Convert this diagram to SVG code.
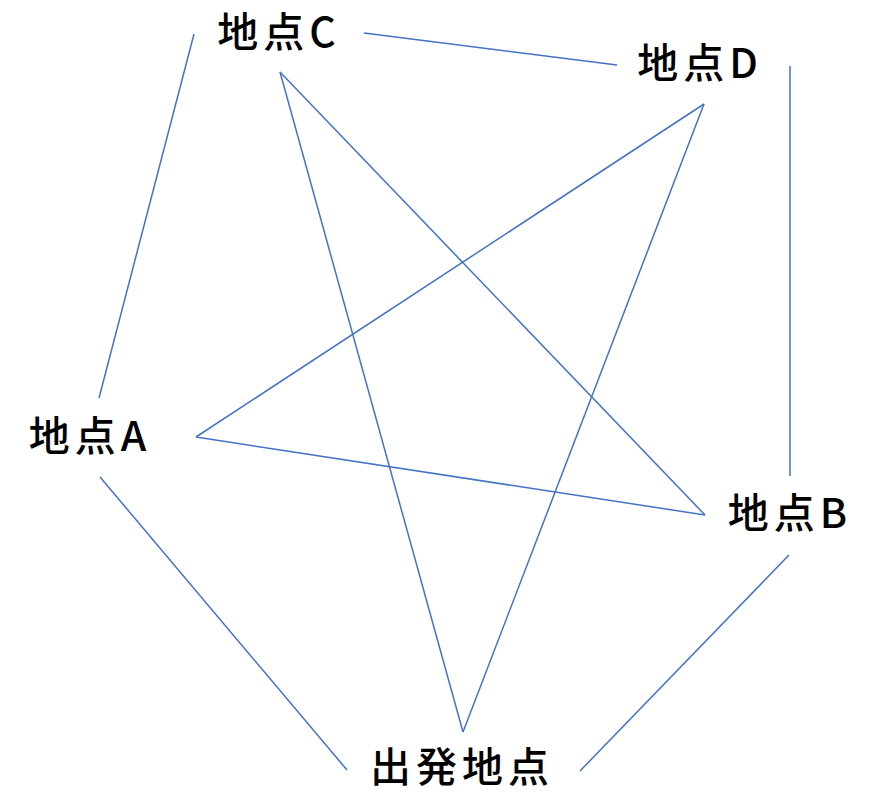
<svg xmlns="http://www.w3.org/2000/svg" width="872" height="793" viewBox="0 0 872 793">
<style>
.edge{stroke:#4472C4;stroke-width:1.5;fill:none}
.lbl{font-family:"Noto Sans CJK JP","Noto Sans",sans-serif;font-size:41px;font-weight:500;fill:#000;text-anchor:middle;letter-spacing:5px}
</style>
<rect width="872" height="793" fill="#fff"/>
<g id="connectors">
<line class="edge" x1="194" y1="34" x2="99" y2="398"/>
<line class="edge" x1="364" y1="33" x2="617" y2="65"/>
<line class="edge" x1="790" y1="66" x2="790" y2="476"/>
<line class="edge" x1="280" y1="72" x2="463" y2="732"/>
<line class="edge" x1="280" y1="72" x2="705" y2="515"/>
<line class="edge" x1="704" y1="104" x2="196" y2="437"/>
<line class="edge" x1="704" y1="104" x2="463" y2="732"/>
<line class="edge" x1="196" y1="437" x2="705" y2="515"/>
<line class="edge" x1="100" y1="477" x2="347" y2="770"/>
<line class="edge" x1="789" y1="555" x2="580" y2="771"/>
</g>
<g id="nodeC"><text class="lbl" x="279" y="47">地点C</text></g>
<g id="nodeD"><text class="lbl" x="700" y="78">地点D</text></g>
<g id="nodeA"><text class="lbl" x="90" y="451">地点A</text></g>
<g id="nodeB"><text class="lbl" x="790" y="528">地点B</text></g>
<g id="start"><text class="lbl" x="462" y="782">出発地点</text></g>
</svg>
